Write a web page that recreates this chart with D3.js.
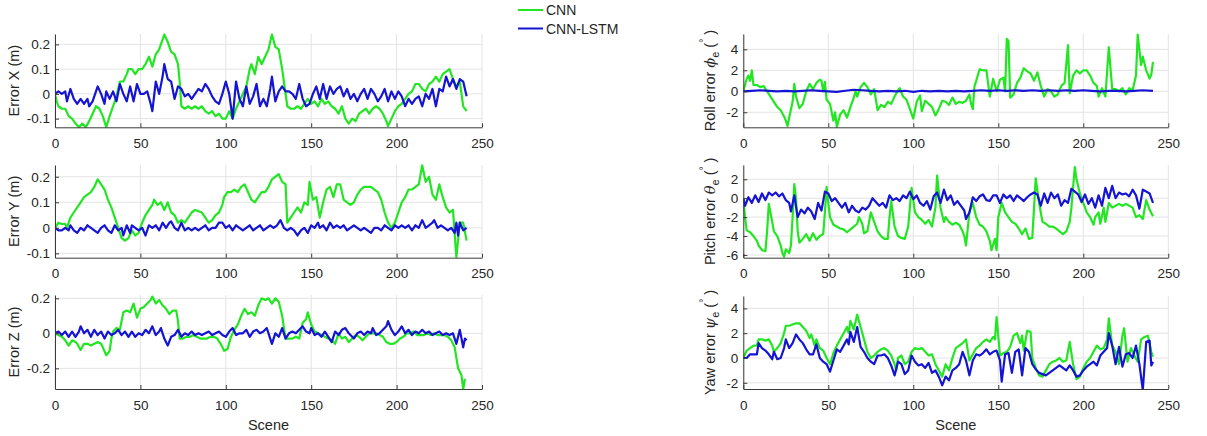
<!DOCTYPE html>
<html><head><meta charset="utf-8">
<script src="https://cdn.jsdelivr.net/npm/d3@7"></script>
<style>
body{margin:0;background:#fff}
svg{display:block}
text{font-family:"Liberation Sans",Arial,Helvetica,sans-serif;fill:#262626}
</style>
</head><body><div id="chart"></div>
<script>
// ---------------- DATA ----------------
const seriesNames = ["CNN", "CNN-LSTM"];
const sceneTicks = [0, 50, 100, 150, 200, 250];
const sceneDomain = [0, 250];

const xTicks = [-0.1, 0, 0.1, 0.2];
const yTicks = [-0.1, 0, 0.1, 0.2];
const zTicks = [-0.2, 0, 0.2];
const rollTicks = [-2, 0, 2, 4];
const pitchTicks = [-6, -4, -2, 0, 2];
const yawTicks = [-2, 0, 2, 4];

const xLim = [-0.135, 0.242];
const yLim = [-0.117, 0.246];
const zLim = [-0.318, 0.219];
const rollLim = [-3.43, 5.46];
const pitchLim = [-6.29, 3.51];
const yawLim = [-2.5, 5];

// [scene, error]
const xCnn = [[0,0],[1,-0.03],[2,-0.05],[4,-0.06],[6,-0.06],[8,-0.09],[10,-0.1],[12,-0.12],[14,-0.135],[16,-0.12],[18,-0.135],[20,-0.11],[22,-0.08],[24,-0.05],[26,-0.06],[28,-0.09],[30,-0.135],[32,-0.09],[34,-0.05],[36,-0.01],[38,0.05],[40,0.05],[42,0.08],[43,0.1],[45,0.1],[47,0.08],[49,0.1],[51,0.1],[53,0.12],[55,0.15],[57,0.11],[59,0.16],[61,0.18],[62,0.2],[64,0.24],[66,0.21],[68,0.17],[70,0.16],[72,0.12],[73,0.05],[74,-0.05],[76,-0.06],[78,-0.05],[80,-0.06],[82,-0.05],[84,-0.06],[86,-0.05],[88,-0.07],[90,-0.08],[92,-0.07],[94,-0.09],[96,-0.08],[98,-0.1],[100,-0.1],[102,-0.07],[104,-0.1],[106,-0.06],[108,-0.03],[110,0.0],[112,0.03],[114,0.1],[115,0.12],[117,0.08],[119,0.15],[121,0.12],[123,0.15],[125,0.18],[127,0.24],[129,0.19],[131,0.18],[133,0.1],[134,0.05],[136,-0.05],[138,-0.06],[140,-0.06],[142,-0.05],[144,-0.06],[146,-0.04],[148,-0.02],[150,-0.04],[152,-0.03],[154,-0.05],[156,-0.02],[158,-0.04],[160,-0.03],[162,-0.05],[164,-0.06],[166,-0.08],[168,-0.05],[170,-0.1],[172,-0.12],[174,-0.1],[176,-0.11],[178,-0.08],[180,-0.07],[182,-0.06],[184,-0.08],[186,-0.06],[188,-0.05],[190,-0.06],[192,-0.08],[194,-0.11],[195,-0.13],[197,-0.1],[199,-0.07],[201,-0.05],[203,-0.04],[205,-0.02],[207,0],[209,0.01],[211,0.04],[213,0.04],[215,0.02],[217,0.01],[219,0.04],[221,0.05],[223,0.07],[225,0.05],[227,0.08],[229,0.09],[231,0.1],[233,0.06],[235,0.03],[237,0.05],[239,-0.05],[241,-0.07]];
const xLstm = [[0,0],[2,0.01],[4,0.0],[6,0.01],[7,-0.03],[9,0.02],[11,-0.02],[13,-0.04],[15,-0.02],[17,-0.04],[19,-0.02],[20,-0.05],[22,-0.03],[23,-0.01],[25,0.03],[27,0],[29,-0.04],[30,0.01],[32,-0.02],[34,0.01],[36,-0.03],[38,0.04],[40,0.0],[42,-0.03],[44,0.03],[46,-0.03],[48,0.04],[50,0.0],[52,0.0],[54,0.01],[56,-0.04],[57,-0.07],[59,0.05],[61,0.0],[63,0.07],[64,0.12],[66,0.06],[68,0.05],[70,-0.02],[72,0.03],[74,0.02],[76,-0.01],[78,0.0],[80,-0.02],[82,0.0],[84,0.02],[86,0.01],[88,0.04],[90,0.02],[92,-0.01],[94,-0.03],[96,-0.04],[98,0.0],[100,0.05],[102,0.0],[104,-0.1],[106,0.05],[108,-0.02],[110,-0.05],[112,0.03],[114,-0.04],[116,-0.01],[118,0.04],[120,-0.05],[122,-0.02],[124,-0.05],[126,0.02],[127,0.07],[129,-0.03],[131,0.01],[133,0.03],[135,0.01],[137,0.01],[139,0.0],[141,-0.02],[143,0.04],[145,-0.02],[147,-0.05],[149,-0.04],[151,0.0],[153,0.03],[155,-0.02],[157,0.04],[159,-0.02],[161,0.03],[163,0.0],[165,0.02],[167,0.03],[169,-0.01],[171,0.02],[173,-0.02],[175,0.0],[177,-0.03],[179,0.0],[181,0.02],[183,-0.02],[185,0.02],[187,0.0],[189,-0.03],[191,-0.01],[193,0.02],[195,-0.03],[197,0.01],[199,-0.02],[201,0.01],[203,-0.01],[205,-0.05],[207,-0.02],[209,-0.04],[211,-0.02],[213,-0.01],[215,-0.05],[217,0.0],[219,-0.02],[221,0.02],[223,-0.05],[225,0.02],[227,0.01],[229,0.07],[231,0.03],[233,0.06],[235,0.02],[237,0.06],[239,0.05],[241,-0.01]];

const yCnn = [[0,0],[2,0.02],[4,0.015],[6,0.015],[7,0.0],[9,0.04],[11,0.06],[13,0.08],[15,0.1],[17,0.12],[19,0.13],[21,0.14],[23,0.16],[25,0.19],[27,0.17],[29,0.15],[31,0.11],[33,0.08],[35,0.04],[37,0.0],[39,-0.04],[41,-0.05],[43,-0.04],[45,-0.01],[47,-0.03],[49,-0.02],[51,0.02],[53,0.05],[55,0.07],[57,0.09],[58,0.11],[60,0.09],[62,0.1],[64,0.07],[66,0.1],[68,0.06],[70,0.05],[72,0.02],[74,0.03],[76,0.02],[78,0.04],[80,0.06],[82,0.07],[84,0.065],[86,0.06],[88,0.04],[90,0.02],[92,0.03],[94,0.05],[96,0.06],[98,0.09],[99,0.12],[101,0.14],[103,0.14],[105,0.15],[107,0.14],[109,0.16],[111,0.17],[113,0.14],[115,0.11],[117,0.1],[119,0.12],[121,0.14],[123,0.14],[125,0.16],[127,0.19],[129,0.2],[131,0.21],[133,0.18],[135,0.17],[136,0.02],[138,0.04],[140,0.06],[142,0.08],[144,0.06],[146,0.1],[148,0.09],[149,0.18],[151,0.11],[153,0.12],[155,0.04],[157,0.1],[159,0.15],[161,0.16],[163,0.12],[165,0.17],[167,0.17],[169,0.11],[171,0.1],[173,0.09],[175,0.1],[177,0.13],[179,0.15],[181,0.16],[183,0.16],[185,0.16],[187,0.15],[189,0.14],[191,0.11],[193,0.06],[195,0.02],[197,0.0],[199,0.02],[201,0.06],[203,0.1],[205,0.12],[207,0.15],[209,0.15],[211,0.16],[213,0.17],[215,0.245],[217,0.18],[219,0.2],[221,0.13],[223,0.11],[225,0.17],[227,0.12],[229,0.08],[231,0.06],[233,0.07],[235,-0.115],[237,0.02],[239,0.02],[241,-0.05]];
const yLstm = [[0,0],[2,-0.01],[4,-0.01],[6,0.0],[8,-0.01],[9,0.01],[11,-0.01],[13,-0.02],[15,0.0],[17,-0.01],[19,0.01],[21,0.0],[23,-0.01],[25,-0.02],[27,0.0],[29,0.01],[31,-0.01],[33,-0.02],[35,0.01],[37,-0.01],[39,0.0],[40,-0.03],[42,0.01],[44,-0.02],[45,0.01],[47,0.0],[49,-0.01],[51,0.0],[53,-0.03],[55,0.01],[57,0.0],[59,0.01],[61,-0.01],[63,0.02],[65,0.0],[67,0.02],[68,0.025],[70,0.0],[72,-0.01],[74,0.02],[76,-0.01],[78,0.0],[80,-0.01],[82,0.0],[84,-0.01],[86,0.0],[88,0.01],[90,-0.01],[92,0.0],[94,0.0],[96,0.02],[98,0.02],[100,0.0],[102,0.01],[104,-0.01],[106,0.01],[108,0.0],[110,-0.01],[112,0.0],[114,0.01],[116,-0.01],[118,0.0],[120,0.01],[122,-0.01],[124,0.0],[126,0.01],[128,0.0],[130,0.01],[132,0.03],[134,0.0],[136,-0.01],[138,0.0],[140,-0.01],[142,-0.03],[144,-0.01],[146,0.0],[148,-0.02],[150,0.01],[152,0.0],[154,0.02],[155,0.0],[157,0.01],[159,-0.01],[161,0.02],[163,0.0],[165,0.01],[167,0.0],[169,0.01],[171,-0.01],[173,0.0],[175,0.01],[177,0.0],[179,-0.01],[181,0.0],[183,-0.01],[185,-0.02],[187,0.0],[189,0.0],[191,-0.01],[193,0.01],[195,0.0],[197,-0.01],[199,0.01],[201,0.0],[203,0.01],[205,0.0],[207,0.01],[209,-0.01],[211,0.01],[213,0.0],[215,0.03],[217,0.0],[219,0.01],[221,0.02],[222,0.03],[224,0.0],[226,0.01],[228,0.0],[230,-0.01],[232,0.0],[234,-0.02],[235,0.02],[236,-0.03],[237,0.02],[239,-0.01],[241,0.0]];

const zCnn = [[0,0],[2,-0.01],[4,-0.02],[6,-0.04],[8,-0.07],[10,-0.04],[12,-0.05],[13,-0.06],[15,-0.095],[17,-0.06],[19,-0.06],[21,-0.07],[23,-0.06],[25,-0.05],[27,-0.06],[28,-0.08],[30,-0.125],[32,-0.1],[33,-0.03],[34,0.01],[36,0.03],[38,0.02],[40,0.12],[42,0.13],[44,0.12],[46,0.17],[48,0.09],[50,0.14],[52,0.15],[54,0.17],[56,0.19],[57,0.21],[59,0.17],[61,0.19],[63,0.16],[65,0.14],[67,0.11],[69,0.13],[71,0.13],[72,0.07],[73,-0.03],[75,-0.03],[77,-0.02],[79,-0.02],[81,-0.01],[83,-0.02],[85,-0.03],[87,-0.03],[89,-0.03],[91,-0.02],[93,-0.02],[95,-0.03],[97,-0.06],[99,-0.1],[101,-0.09],[103,-0.02],[105,0.02],[107,0.05],[109,0.1],[111,0.14],[113,0.11],[115,0.12],[117,0.1],[119,0.16],[121,0.2],[123,0.19],[125,0.2],[127,0.17],[129,0.2],[131,0.18],[133,0.1],[135,-0.03],[137,-0.03],[139,-0.03],[141,-0.02],[143,-0.03],[145,0.06],[147,0.08],[148,0.12],[150,0.05],[152,0.01],[154,0.0],[156,-0.01],[158,-0.02],[160,-0.03],[162,-0.04],[164,-0.06],[166,0.0],[168,-0.03],[170,-0.02],[172,-0.05],[174,-0.03],[176,-0.01],[178,-0.02],[180,-0.04],[182,-0.02],[184,0.0],[186,0.0],[188,0.0],[190,-0.01],[192,-0.02],[194,-0.05],[196,-0.06],[198,-0.06],[200,-0.05],[202,-0.03],[204,-0.02],[206,0.0],[208,0.0],[210,0.01],[212,-0.01],[214,-0.01],[216,-0.01],[218,0.0],[220,-0.01],[222,0.0],[224,-0.01],[226,-0.01],[228,-0.01],[230,-0.02],[232,-0.04],[234,-0.08],[236,-0.2],[238,-0.24],[239,-0.32],[240,-0.26]];
const zLstm = [[0,0],[2,0.01],[4,-0.01],[6,0.01],[8,-0.02],[10,0.01],[12,-0.02],[14,0.01],[15,0.04],[17,0.0],[19,0.02],[21,-0.02],[23,0.02],[25,-0.01],[27,0.01],[29,-0.03],[31,0.01],[33,-0.01],[35,0.0],[37,0.02],[39,-0.01],[41,0.01],[43,-0.02],[45,0.01],[47,-0.02],[49,0.0],[51,-0.01],[53,0.02],[55,0.0],[57,0.04],[59,-0.01],[61,0.01],[62,0.03],[64,-0.03],[66,-0.07],[68,-0.02],[70,-0.01],[72,0.02],[74,-0.02],[76,0.0],[78,-0.01],[80,0.01],[82,-0.01],[84,0.0],[86,-0.01],[88,0.0],[90,0.01],[92,-0.01],[94,0.0],[96,0.01],[98,-0.01],[100,-0.02],[102,0.01],[104,0.03],[106,-0.01],[108,0.0],[110,0.0],[112,0.02],[114,-0.02],[116,0.01],[118,0.02],[120,0.0],[122,0.01],[124,0.03],[126,-0.03],[127,-0.06],[129,0.0],[131,-0.02],[133,0.03],[135,-0.03],[137,0.0],[139,0.01],[141,0.0],[143,0.02],[145,0.04],[147,0.01],[149,0.0],[150,0.03],[152,-0.01],[154,0.0],[156,-0.02],[158,0.01],[160,-0.02],[162,-0.05],[164,0.01],[166,-0.01],[168,0.02],[170,0.03],[172,0.0],[174,-0.02],[175,-0.03],[177,0.0],[179,0.01],[181,-0.01],[183,0.01],[185,0.0],[186,0.03],[188,-0.01],[190,0.0],[192,0.02],[194,0.04],[195,0.07],[197,0.02],[199,-0.01],[201,0.01],[203,0.04],[205,0.0],[207,0.02],[209,-0.01],[211,0.01],[213,0.0],[215,0.02],[217,0.0],[219,0.01],[221,-0.01],[223,0.0],[225,0.01],[227,-0.01],[229,0.0],[231,-0.01],[233,0.0],[235,-0.06],[236,-0.02],[237,0.02],[239,-0.08],[240,-0.03],[241,-0.04]];

const rollCnn = [[0,0],[2,1.2],[3,1.5],[4,1.0],[5,2.0],[6,0.6],[8,0.6],[10,0.4],[12,0.5],[14,0.0],[16,-0.5],[18,-1.0],[20,-1.5],[22,-1.8],[24,-2.4],[25,-2.8],[26,-3.3],[27,-2.5],[29,-1.0],[30,0.7],[31,-0.5],[33,-1.6],[35,-1.2],[37,0.0],[39,0.7],[41,0.2],[43,0.8],[45,1.1],[46,1.0],[47,0.0],[48,0.9],[49,-0.8],[51,-1.2],[53,-2.8],[54,-2.0],[55,-3.4],[57,-2.2],[59,-1.8],[61,-2.5],[63,-1.5],[65,-0.6],[66,0.0],[67,-0.5],[69,0.4],[71,0.8],[73,0.4],[75,-0.3],[77,0.2],[79,-1.8],[81,-1.3],[83,-1.5],[85,-1.0],[87,-1.2],[89,-0.5],[91,0.1],[92,0.3],[94,-0.5],[96,-0.8],[98,-1.7],[100,-2.6],[102,-1.0],[104,-0.4],[105,-1.9],[107,-0.9],[109,-1.2],[111,-1.5],[113,-2.3],[115,-1.7],[117,-0.9],[119,-1.0],[121,-1.3],[123,-0.6],[125,-1.2],[127,-1.0],[129,-1.1],[131,-0.9],[133,-0.3],[134,-1.2],[135,-1.7],[136,0.5],[137,1.0],[139,2.1],[141,2.0],[143,2.0],[145,-0.5],[147,1.2],[149,0.0],[151,1.1],[153,1.3],[154,0.0],[155,5.0],[156,4.8],[157,-0.6],[159,-0.3],[161,0.8],[163,1.3],[165,2.2],[167,1.9],[169,1.7],[171,1.0],[173,1.8],[175,0.5],[177,-0.5],[179,0.2],[181,0.0],[183,-0.5],[185,-0.3],[187,0.5],[189,0.8],[191,4.4],[192,-0.2],[194,1.5],[196,2.0],[198,1.7],[200,2.0],[202,2.0],[204,1.5],[206,0.8],[208,0.5],[209,-0.5],[211,0.3],[213,-0.5],[215,4.2],[217,0.2],[219,0.2],[221,0.0],[223,0.3],[225,-0.3],[227,0.3],[229,0.1],[231,1.5],[232,5.4],[234,2.5],[235,3.3],[237,2.0],[239,1.2],[240,1.6],[241,2.8]];
const rollLstm = [[0,0],[5,0.05],[10,0.1],[15,0.05],[20,0.0],[25,0.05],[30,0.0],[35,0.05],[40,0.1],[45,0.05],[50,0.0],[55,-0.05],[60,0.05],[65,0.15],[70,0.1],[75,0.05],[80,0.0],[85,0.05],[90,0.0],[95,0.05],[100,-0.05],[105,0.05],[110,0.0],[115,0.05],[120,0.0],[125,0.05],[130,0.0],[135,0.05],[140,0.1],[145,0.05],[150,0.1],[155,0.05],[160,0.1],[165,0.05],[170,0.1],[175,0.05],[180,0.1],[185,0.05],[190,0.1],[195,0.05],[200,0.1],[205,0.05],[210,0.0],[215,0.05],[220,0.05],[225,0.0],[230,0.05],[235,0.1],[241,0.05]];

const pitchCnn = [[0,0],[1,-2.0],[2,-3.4],[4,-3.6],[6,-4.0],[8,-4.5],[9,-5.0],[11,-5.5],[13,-5.6],[14,-3.5],[15,-0.6],[17,-2.5],[18,-3.5],[20,-4.0],[22,-5.0],[23,-5.8],[24,-6.2],[25,-5.4],[27,-5.8],[28,-5.0],[29,-2.0],[30,1.5],[31,0.0],[32,-3.5],[33,-4.7],[35,-4.3],[37,-3.8],[39,-4.5],[41,-3.7],[43,-4.4],[45,-4.0],[47,-3.8],[48,-1.5],[49,1.2],[50,-0.5],[51,-2.0],[53,-2.8],[55,-3.0],[57,-3.2],[59,-3.3],[61,-3.6],[63,-3.3],[65,-3.0],[67,-2.7],[68,-2.0],[70,-2.7],[71,-3.7],[73,-3.5],[75,-1.5],[77,-2.5],[79,-3.5],[81,-4.0],[83,-4.3],[85,-4.3],[86,-2.0],[87,-0.3],[89,-3.0],[91,-4.0],[93,-4.2],[95,-4.3],[97,-3.0],[99,1.1],[101,-1.5],[103,-2.0],[105,-2.3],[107,-2.7],[109,-2.3],[111,-3.0],[113,-1.0],[114,2.4],[116,-1.0],[118,-2.5],[119,-2.0],[121,-2.5],[123,-2.8],[125,-2.6],[127,-2.8],[129,-3.5],[130,-4.0],[131,-5.0],[133,-1.5],[135,-0.5],[137,-2.0],[139,-2.8],[141,-3.0],[143,-3.5],[145,-4.5],[146,-5.5],[148,-4.3],[149,-5.5],[150,-2.0],[152,-0.5],[154,-1.5],[156,-2.0],[158,-2.5],[160,-2.7],[162,-3.2],[164,-3.8],[166,-3.2],[168,-4.3],[170,-4.2],[172,2.1],[174,-0.5],[176,-2.5],[178,-2.7],[180,-3.0],[182,-3.0],[184,-3.2],[186,-3.5],[188,-3.8],[190,-3.5],[192,-2.5],[193,-1.0],[195,3.3],[196,2.0],[198,0.5],[200,-0.5],[202,-1.5],[204,-2.0],[206,-2.8],[207,-2.0],[209,-1.5],[210,-2.7],[212,-1.0],[213,-2.5],[215,-0.5],[217,-1.0],[219,-0.8],[221,-0.6],[223,-0.8],[225,-0.6],[227,-0.8],[229,-1.0],[231,-2.0],[233,-1.8],[235,-2.2],[237,-0.2],[239,-1.2],[241,-1.9]];
const pitchLstm = [[0,0],[1,-0.8],[3,0.1],[5,-0.5],[7,0.3],[9,-0.4],[11,0.5],[13,-0.2],[15,0.6],[17,0.3],[19,0.6],[21,0.2],[23,0.5],[25,-0.2],[27,-0.5],[28,-1.4],[30,0.3],[32,-2.0],[34,-1.2],[36,-1.6],[38,-1.0],[40,-1.4],[42,-2.2],[44,-0.5],[46,-1.3],[48,0.7],[50,0.5],[52,-0.3],[54,0.0],[56,-0.5],[58,-1.0],[60,-0.5],[62,-1.5],[64,-0.8],[66,-1.3],[68,-1.5],[70,-1.0],[72,-1.2],[74,-0.8],[76,0.0],[78,-0.4],[80,-0.8],[82,-0.5],[84,-1.0],[86,0.3],[88,-0.2],[90,0.0],[92,-0.3],[94,0.3],[96,0.0],[98,0.7],[100,-0.1],[102,0.3],[104,-0.5],[106,-0.8],[108,-0.3],[110,-1.2],[112,0.2],[114,0.6],[116,-0.5],[118,0.9],[120,-0.2],[122,0.3],[124,-0.7],[126,-0.3],[128,-0.8],[130,-1.3],[131,-2.2],[133,-1.5],[135,0.1],[137,-0.3],[139,0.2],[141,0.4],[143,-0.2],[145,-0.3],[147,0.3],[149,0.3],[151,-0.5],[153,0.4],[155,0.0],[157,0.3],[159,-0.3],[161,0.3],[163,0.0],[165,-0.3],[167,0.1],[169,0.4],[171,0.6],[173,0.4],[175,-0.8],[177,0.5],[179,-0.5],[181,0.6],[183,0.0],[185,0.4],[187,-0.8],[189,-0.2],[191,-0.5],[193,1.0],[195,0.7],[197,0.4],[199,-0.4],[201,0.4],[203,-0.6],[205,0.0],[207,-1.0],[209,0.3],[211,-0.8],[213,1.1],[215,0.0],[217,1.3],[219,0.0],[221,0.6],[223,0.4],[225,0.5],[227,0.2],[229,0.9],[231,0.3],[233,-1.1],[235,0.9],[237,0.7],[239,0.5],[241,-0.5]];

const yawCnn = [[0,0],[2,0.6],[4,0.8],[6,1.0],[8,1.0],[9,1.5],[11,1.5],[13,1.4],[15,1.5],[17,1.0],[18,0.5],[20,0.8],[22,1.2],[24,2.0],[25,2.6],[27,2.6],[29,2.7],[31,2.8],[33,2.8],[35,2.5],[37,2.2],[39,1.6],[40,1.9],[42,1.0],[43,1.5],[45,0.8],[47,0.6],[49,0.0],[51,-0.5],[53,0.4],[55,1.0],[57,1.5],[59,2.0],[61,2.5],[62,2.0],[63,3.0],[65,2.3],[67,3.5],[69,2.5],[71,1.5],[73,0.5],[75,0.0],[77,0.2],[79,0.5],[81,0.7],[83,0.8],[85,0.6],[87,0.2],[89,-0.5],[90,-1.0],[91,0.0],[93,0.2],[95,-0.5],[97,-0.3],[99,0.5],[101,0.8],[103,0.7],[105,0.8],[107,0.5],[109,0.2],[111,0.3],[113,-0.5],[115,-1.0],[117,-1.5],[119,-0.5],[121,-1.0],[123,0.0],[125,0.8],[127,1.0],[129,1.2],[131,1.5],[133,-0.2],[135,0.3],[137,0.8],[139,1.0],[141,1.3],[143,1.5],[145,1.3],[147,1.7],[148,1.5],[149,3.3],[151,0.2],[153,0.4],[155,0.5],[157,0.9],[159,1.8],[161,2.0],[163,1.2],[164,1.8],[165,0.6],[167,2.2],[169,2.1],[170,0.0],[172,-0.8],[174,-1.4],[176,-1.5],[178,-1.0],[180,-0.5],[182,-0.3],[184,-0.2],[186,0.0],[188,-0.3],[190,-0.2],[192,1.3],[194,-0.5],[196,-1.7],[198,-1.5],[200,-0.8],[202,-0.3],[204,0.0],[206,0.5],[208,1.0],[210,0.7],[212,0.8],[214,1.5],[215,3.2],[217,1.0],[219,0.5],[221,-0.5],[223,1.8],[224,2.4],[226,-0.3],[228,0.8],[230,0.2],[232,-0.3],[234,1.5],[236,1.7],[238,1.8],[240,0.5],[241,0.1]];
const yawLstm = [[0,0],[2,0.0],[4,0.3],[6,0.3],[8,0.3],[9,1.2],[11,0.8],[13,0.6],[15,0.3],[17,-0.1],[18,0.5],[20,-0.1],[22,0.0],[24,0.8],[25,1.5],[27,0.8],[29,1.2],[31,1.9],[33,1.5],[35,1.2],[37,0.7],[39,0.3],[41,0.3],[43,1.1],[45,0.0],[47,-0.3],[49,-0.5],[51,-1.1],[53,-0.2],[55,0.7],[57,0.5],[59,1.0],[61,1.5],[62,1.1],[63,2.1],[65,1.3],[67,2.5],[69,0.9],[71,0.5],[73,0.0],[75,-0.3],[77,-0.5],[79,0.2],[81,0.2],[83,0.3],[85,0.0],[87,-0.6],[89,-1.4],[91,-0.3],[93,-0.5],[95,-1.3],[97,-1.0],[99,0.2],[101,-0.3],[103,-0.6],[105,-0.5],[107,-0.8],[109,-0.4],[111,-1.2],[113,-1.0],[115,-1.5],[117,-2.2],[119,-1.5],[121,-1.8],[123,-1.0],[125,-0.8],[127,-0.5],[129,0.5],[131,-0.2],[133,-1.4],[135,-0.2],[137,0.3],[139,0.2],[141,0.4],[143,0.7],[145,0.3],[147,0.5],[149,0.6],[151,-0.2],[152,-1.9],[154,0.3],[156,0.4],[158,-1.2],[160,0.5],[162,0.7],[164,-1.4],[166,0.8],[168,0.5],[170,-0.5],[172,-0.9],[174,-1.2],[176,-1.3],[178,-1.4],[180,-1.2],[182,-1.0],[184,-0.8],[186,-0.6],[188,-0.8],[190,-1.0],[192,-0.6],[194,-1.0],[196,-1.5],[198,-1.4],[200,-1.0],[202,-0.7],[204,-0.5],[206,-0.3],[208,-0.6],[210,0.2],[212,0.5],[214,0.8],[215,2.0],[217,1.0],[219,-0.5],[221,0.9],[223,-0.7],[225,0.3],[227,0.4],[229,0.0],[231,1.0],[233,-0.5],[235,-2.6],[237,1.3],[239,1.4],[240,-0.6],[241,-0.3]];

// ---------------- LAYOUT / STYLE ----------------
const W = 1207, H = 436;
const colors = ["#22e622", "#1414d2"];
const cols = [[55, 482], [743.3, 1168.3]];
const rows = [[34, 127.3], [165, 257.7], [295, 389]];

const panels = [
  {c:0, r:0, lim:xLim, ticks:xTicks, data:[xCnn, xLstm], label:[{t:"Error X (m)"}]},
  {c:0, r:1, lim:yLim, ticks:yTicks, data:[yCnn, yLstm], label:[{t:"Error Y (m)"}]},
  {c:0, r:2, lim:zLim, ticks:zTicks, data:[zCnn, zLstm], label:[{t:"Error Z (m)"}], xlabel:true},
  {c:1, r:0, lim:rollLim, ticks:rollTicks, data:[rollCnn, rollLstm], label:[{t:"Roll error "},{t:"\u03D5",it:1},{t:"e",sub:1},{t:" ("},{t:"\u00B0",sup:1},{t:" )"}]},
  {c:1, r:1, lim:pitchLim, ticks:pitchTicks, data:[pitchCnn, pitchLstm], label:[{t:"Pitch error "},{t:"\u03B8",it:1},{t:"e",sub:1},{t:" ("},{t:"\u00B0",sup:1},{t:" )"}]},
  {c:1, r:2, lim:yawLim, ticks:yawTicks, data:[yawCnn, yawLstm], label:[{t:"Yaw error "},{t:"\u03C8",it:1},{t:"e",sub:1},{t:" ("},{t:"\u00B0",sup:1},{t:" )"}], xlabel:true, top:296}
];

const svg = d3.select("#chart").append("svg").attr("width", W).attr("height", H);
const fmt = v => String(v);

panels.forEach((p, i) => {
  const [x0, x1] = cols[p.c];
  const y0 = p.top || rows[p.r][0], y1 = rows[p.r][1];
  const xs = d3.scaleLinear().domain(sceneDomain).range([x0, x1]);
  const ys = d3.scaleLinear().domain(p.lim).range([y1, y0]);
  const g = svg.append("g");

  // grid
  g.append("g").selectAll("line").data(sceneTicks).join("line")
    .attr("x1", d => xs(d)).attr("x2", d => xs(d)).attr("y1", y0).attr("y2", y1)
    .attr("stroke", "#e3e3e3").attr("stroke-width", 1);
  g.append("g").selectAll("line").data(p.ticks).join("line")
    .attr("x1", x0).attr("x2", x1).attr("y1", d => ys(d)).attr("y2", d => ys(d))
    .attr("stroke", "#e3e3e3").attr("stroke-width", 1);

  // clip
  const cid = "clip" + i;
  svg.append("clipPath").attr("id", cid).append("rect")
    .attr("x", x0).attr("y", y0 - 1).attr("width", x1 - x0).attr("height", y1 - y0 + 2);

  const line = d3.line().x(d => xs(d[0])).y(d => ys(d[1]));
  const lg = g.append("g").attr("clip-path", `url(#${cid})`);
  p.data.forEach((ser, k) => {
    lg.append("path").datum(ser).attr("d", line)
      .attr("fill", "none").attr("stroke", colors[k]).attr("stroke-width", 2.2)
      .attr("stroke-linejoin", "round");
  });

  // axes
  const ax = g.append("g").attr("transform", `translate(0,${y1})`)
    .call(d3.axisBottom(xs).tickValues(sceneTicks).tickSizeInner(-4).tickSizeOuter(0).tickPadding(11).tickFormat(d3.format("d")));
  const ay = g.append("g").attr("transform", `translate(${x0},0)`)
    .call(d3.axisLeft(ys).tickValues(p.ticks).tickSizeInner(-4).tickSizeOuter(0).tickPadding(5).tickFormat(fmt));
  [ax, ay].forEach(a => {
    a.select(".domain").attr("stroke", "#3a3a3a").attr("stroke-width", 1);
    a.selectAll(".tick line").attr("stroke", "#3a3a3a");
    a.selectAll(".tick text").attr("font-size", 13.5).attr("fill", "#262626")
      .attr("font-family", "'Liberation Sans', Arial, sans-serif");
  });

  // y label
  const lx = p.c === 0 ? 19 : 715;
  const ly = (y0 + y1) / 2;
  const t = g.append("text").attr("transform", `translate(${lx},${ly}) rotate(-90)`)
    .attr("text-anchor", "middle").attr("font-size", 14.5);
  p.label.forEach((part, j) => {
    const prev = p.label[j - 1];
    const ts = t.append("tspan").text(part.t);
    if (part.it) ts.attr("font-style", "italic").attr("font-family", "'DejaVu Serif', serif");
    if (part.sub) ts.attr("font-size", 11).attr("dy", 4);
    if (part.sup) ts.attr("font-size", 10).attr("dy", -8);
    if (prev && prev.sub && !part.sub) ts.attr("dy", -4);
    if (prev && prev.sup && !part.sup) ts.attr("dy", 8);
  });

  if (p.xlabel) {
    g.append("text").attr("x", (x0 + x1) / 2).attr("y", 430)
      .attr("text-anchor", "middle").attr("font-size", 14.5).text("Scene");
  }
});

// legend
const leg = svg.append("g");
seriesNames.forEach((n, k) => {
  const yy = 10 + k * 18.5;
  leg.append("line").attr("x1", 518).attr("x2", 543).attr("y1", yy).attr("y2", yy)
    .attr("stroke", colors[k]).attr("stroke-width", 2);
  leg.append("text").attr("x", 546).attr("y", yy + 5).attr("font-size", 14).text(n);
});
</script>
</body></html>
